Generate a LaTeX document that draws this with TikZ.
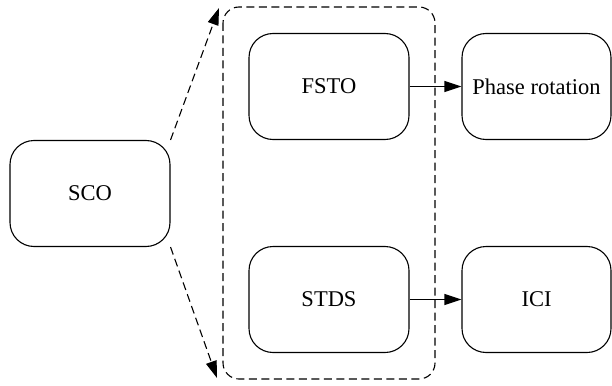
\documentclass[tikz,border=0pt]{standalone}
\usepackage{fontspec}
\setmainfont{Liberation Serif}
\newfontfamily\tnr{Liberation Serif}
\usetikzlibrary{arrows.meta}
\begin{document}
\begin{tikzpicture}[x=1pt,y=-1pt,
  blk/.style={draw,line width=1.1pt,rounded corners=24pt,minimum width=#1,minimum height=106pt,inner sep=0pt,font=\tnr\fontsize{22.5}{26}\selectfont},
  blk/.default=160pt,
  dsh/.style={line width=1.1pt,dash pattern=on 8pt off 4.5pt},
  arr/.style={-{Triangle[length=17pt,width=11pt]},line width=1.1pt}]
\useasboundingbox (0,0) rectangle (612,385);
\node[blk] (sco) at (90,193.5) {SCO};
\node[blk] (fsto) at (329,86.5) {FSTO};
\node[blk] (stds) at (329,299.5) {STDS};
\node[blk=149pt] (phase) at (536.5,86.5) {Phase rotation};
\node[blk=149pt] (ici) at (536.5,299.5) {ICI};
\draw[dsh,rounded corners=16pt] (223,7) rectangle (435,379);
\coordinate (t1) at (219,8);
\coordinate (t2) at (217,378);
\draw[dsh,arr] (sco.north east) -- (t1);
\draw[dsh,arr] (sco.south east) -- (t2);
\draw[arr] (fsto.east) -- (phase.west);
\draw[arr] (stds.east) -- (ici.west);
\end{tikzpicture}
\end{document}
